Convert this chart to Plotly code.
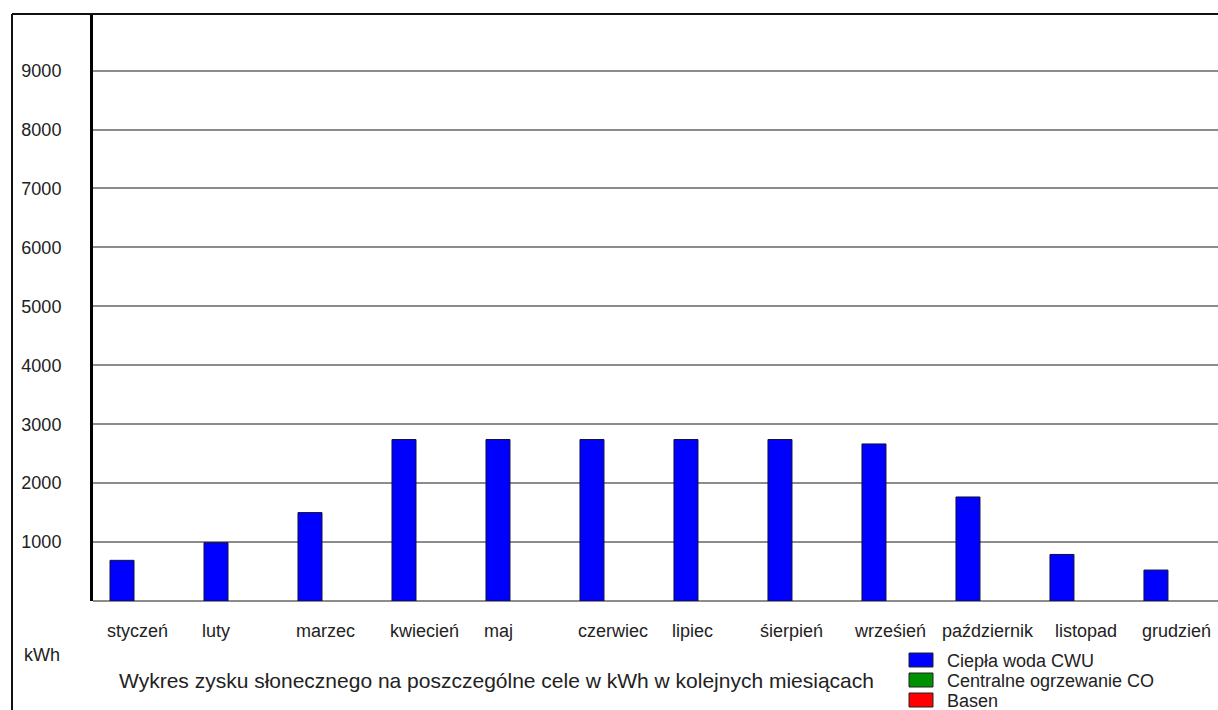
import plotly.graph_objects as go

months = ["styczeń", "luty", "marzec", "kwiecień", "maj", "czerwiec", "lipiec",
          "śierpień", "wrześień", "październik", "listopad", "grudzień"]
cwu = [690, 990, 1500, 2740, 2740, 2740, 2740, 2740, 2665, 1765, 790, 525]
co = [0, 0, 0, 0, 0, 0, 0, 0, 0, 0, 0, 0]
basen = [0, 0, 0, 0, 0, 0, 0, 0, 0, 0, 0, 0]
y_ticks = [1000, 2000, 3000, 4000, 5000, 6000, 7000, 8000, 9000]
series_names = ["Ciepła woda CWU", "Centralne ogrzewanie CO", "Basen"]
title_text = "Wykres zysku słonecznego na poszczególne cele w kWh w kolejnych miesiącach"
unit_text = "kWh"

FONT = "Liberation Sans, Arial, sans-serif"
TXT = "#222222"
W, H = 1218, 710
L, T, B = 93, 14, 109
PW = W - L
ph = H - T - B
colors = ["#0000ff", "#009100", "#ff0000"]

def py(pix):
    return (H - B - pix) / ph

def px(pix):
    return (pix - L) / PW

bw = 0.2553
fig = go.Figure()
for k, vals in enumerate([cwu, co, basen]):
    fig.add_trace(go.Bar(x=months, y=vals, name=series_names[k], width=bw,
                         offset=-bw / 2 + k * bw, showlegend=False,
                         marker=dict(color=colors[k],
                                     line=dict(color="#111133", width=1 if k == 0 else 0))))

fig.update_layout(
    width=W, height=H,
    margin=dict(l=L, r=0, t=T, b=B, autoexpand=False),
    paper_bgcolor="white", plot_bgcolor="white",
    barmode="overlay",
    font=dict(family=FONT, color=TXT, size=18),
    showlegend=False,
)
fig.update_xaxes(type="category", range=[-0.3085, 11.66], showticklabels=False,
                 showgrid=False, zeroline=False, showline=False, ticks="")
fig.update_yaxes(range=[0, 9960], tickvals=y_ticks, ticktext=[str(v) for v in y_ticks],
                 showgrid=True, gridcolor="#8c8c8c", gridwidth=2,
                 zeroline=True, zerolinecolor="#8c8c8c", zerolinewidth=2,
                 showline=True, linecolor="black", linewidth=3,
                 ticks="", ticklabelstandoff=25, tickfont=dict(size=18, color=TXT))

# month labels (left-aligned near each bar, a few nudged as in the original)
nudge = {"styczeń": -1, "śierpień": -6, "wrześień": -6, "październik": -12, "listopad": 7}
for i, m in enumerate(months):
    fig.add_annotation(x=i - 0.175, y=py(631), xref="x", yref="paper",
                       text=m, showarrow=False, xanchor="left", yanchor="middle",
                       xshift=nudge.get(m, 0), font=dict(size=18, color=TXT))
fig.add_annotation(x=px(22), y=py(655), xref="paper", yref="paper",
                   text=unit_text, showarrow=False, xanchor="left", yanchor="middle",
                   font=dict(size=18, color=TXT))
fig.add_annotation(x=px(117), y=py(680), xref="paper", yref="paper",
                   text=title_text, showarrow=False, xanchor="left", yanchor="middle",
                   font=dict(size=21, color=TXT))

# legend (drawn manually to match the original's compact layout)
for k, name in enumerate(series_names):
    cy = 660 + 20 * k
    fig.add_shape(type="rect", xref="paper", yref="paper",
                  x0=px(909), x1=px(933), y0=py(cy - 7), y1=py(cy + 7),
                  fillcolor=colors[k], line=dict(color="#222222", width=1))
    fig.add_annotation(x=px(945), y=py(cy + 1), xref="paper", yref="paper",
                       text=name, showarrow=False, xanchor="left", yanchor="middle",
                       font=dict(size=18, color=TXT))

# outer frame lines
fx0 = px(12)
fig.add_shape(type="line", xref="paper", yref="paper", x0=fx0, x1=1.02, y0=1, y1=1,
              line=dict(color="#111111", width=2))
fig.add_shape(type="line", xref="paper", yref="paper", x0=fx0, x1=fx0, y0=1, y1=-0.3,
              line=dict(color="#111111", width=2))

fig.write_html("out.html")
